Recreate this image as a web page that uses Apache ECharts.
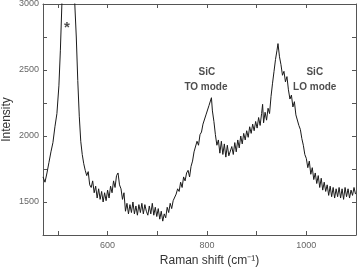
<!DOCTYPE html>
<html><head><meta charset="utf-8">
<script src="https://cdn.jsdelivr.net/npm/echarts@6/dist/echarts.min.js"></script>
<style>html,body{margin:0;padding:0;background:#fff}#c{width:357px;height:269px}</style>
</head><body><div id="c"></div>
<script>
var ramanShift = [470,474,478,482,486,490,494,498,502,505,508,511,515,519,522,525,528,531,534,537,540,543,546,549,552,555,558,561,564,567,570,573,576,579,582,585,588,591,594,597,600,603,606,609,612,615,618,621,624,627,630,633,636,639,642,645,648,651,654,657,660,663,666,669,672,675,678,681,684,687,690,693,696,699,702,705,708,711,714,717,720,723,726,729,732,735,738,741,744,747,750,753,756,759,762,765,768,771,774,777,780,783,786,789,792,795,798,801,804,807,809,811,814,817,820,823,826,829,832,835,838,841,844,847,850,853,856,859,862,865,868,871,874,877,880,883,886,889,892,895,898,901,904,907,910,912,914,917,920,923,926,929,932,935,938,941,943,946,949,952,955,958,961,964,967,970,973,976,979,982,985,988,991,994,997,1000,1003,1006,1009,1012,1015,1018,1021,1024,1027,1030,1033,1036,1039,1042,1045,1048,1051,1054,1057,1060,1063,1066,1069,1072,1075,1078,1081,1084,1087,1090,1093,1096,1099];
var intensity = [1690,1650,1720,1800,1880,1950,2070,2170,2380,2650,3000,3600,4500,5400,5600,5200,4300,3500,3000,2750,2420,2150,1960,1860,1790,1740,1700,1730,1630,1610,1660,1570,1620,1530,1600,1520,1580,1500,1570,1510,1590,1530,1620,1570,1660,1610,1700,1720,1630,1600,1520,1570,1430,1490,1410,1480,1420,1500,1410,1470,1400,1480,1420,1490,1410,1480,1430,1400,1470,1410,1490,1400,1460,1390,1450,1370,1430,1355,1410,1380,1460,1420,1490,1450,1510,1500,1560,1600,1580,1650,1610,1690,1660,1720,1740,1690,1770,1810,1880,1890,1960,1930,2010,2030,2090,2100,2160,2170,2230,2240,2290,2190,2110,2010,1930,1970,1870,1960,1860,1940,1840,1930,1850,1840,1920,1860,1950,1880,1970,1910,2000,1940,2020,1970,2040,1990,2070,2020,2090,2040,2110,2060,2140,2080,2170,2240,2100,2180,2120,2210,2170,2300,2400,2490,2580,2650,2700,2600,2540,2460,2490,2410,2450,2350,2280,2310,2220,2260,2160,2160,2080,2050,1980,1930,1860,1830,1760,1810,1710,1760,1670,1720,1640,1700,1610,1680,1590,1650,1580,1630,1550,1620,1540,1610,1530,1600,1540,1610,1530,1600,1520,1610,1540,1600,1530,1590,1550,1610,1560];
var xTicks = [500,600,700,800,900,1000,1100];
var xLabels = [600,800,1000];
var yLabels = [1500,2000,2500,3000];
var annotations = [
  {text:'*', x:518, y:2820, size:15},
  {text:'SiC', x:800, y:2480, size:10},
  {text:'TO mode', x:798, y:2370, size:10},
  {text:'SiC', x:1017, y:2480, size:10},
  {text:'LO mode', x:1017, y:2370, size:10}
];

var chart = echarts.init(document.getElementById('c'), null, {renderer:'canvas'});
var pts = ramanShift.map(function(x,i){return [x,intensity[i]];});
var axLine = {show:true, lineStyle:{color:'#555', width:1}};
var tickLine = {color:'#555', width:1};
function plain(v){return String(v);}
chart.setOption({
  animation:false,
  grid:{left:43, right:1, top:4, bottom:34, containLabel:false, outerBoundsMode:'none'},
  xAxis:[{
    type:'value', min:470, max:1100, position:'bottom',
    name:'Raman shift (cm\u207B\u00B9)', nameLocation:'middle', nameGap:20, nameMoveOverlap:false,
    nameTextStyle:{fontFamily:'Liberation Sans', fontSize:12, color:'#333', padding:[0,0,0,20]},
    axisLine:axLine,
    axisTick:{show:true, inside:true, length:4, customValues:xTicks, lineStyle:tickLine},
    axisLabel:{show:true, customValues:xLabels, formatter:plain, fontFamily:'Liberation Sans', fontSize:9, color:'#666', margin:6},
    splitLine:{show:false}
  },{
    type:'value', min:470, max:1100, position:'top',
    axisLine:axLine,
    axisTick:{show:true, inside:true, length:4, customValues:xTicks, lineStyle:tickLine},
    axisLabel:{show:false}, splitLine:{show:false}
  }],
  yAxis:[{
    type:'value', min:1250, max:3000, interval:250, position:'left',
    name:'Intensity', nameLocation:'middle', nameGap:30, nameMoveOverlap:false,
    nameTextStyle:{fontFamily:'Liberation Sans', fontSize:12, color:'#333'},
    axisLine:axLine,
    axisTick:{show:true, inside:true, length:4, lineStyle:tickLine},
    axisLabel:{show:true, customValues:yLabels, formatter:plain, fontFamily:'Liberation Sans', fontSize:9, color:'#666', margin:4},
    splitLine:{show:false}
  },{
    type:'value', min:1250, max:3000, interval:250, position:'right',
    axisLine:axLine,
    axisTick:{show:true, inside:true, length:4, lineStyle:tickLine},
    axisLabel:{show:false}, splitLine:{show:false}
  }],
  series:[{
    type:'line', data:pts, showSymbol:false, symbol:'none', clip:true,
    lineStyle:{color:'#1a1a1a', width:1}
  },{
    type:'scatter', symbolSize:0, silent:true,
    data:annotations.map(function(a){return {value:[a.x,a.y], name:a.text, label:{fontSize:a.size}};}),
    label:{show:true, position:'inside', formatter:function(p){return p.name;},
      fontFamily:'Liberation Sans', fontWeight:'bold', color:'#222', fontSize:10}
  }]
});
</script></body></html>
